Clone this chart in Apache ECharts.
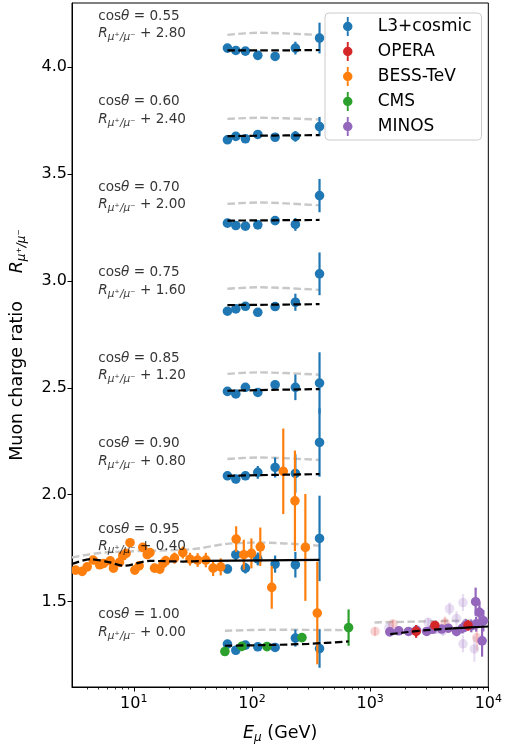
<!DOCTYPE html>
<html>
<head>
<meta charset="utf-8">
<script src="https://cdn.jsdelivr.net/npm/echarts@6/dist/echarts.min.js"></script>
<style>
  html, body { margin: 0; padding: 0; background: #fff; }
  #main { width: 505px; height: 749px; }
</style>
</head>
<body>
<div id="main"></div>
<script>
// cos(theta) bins and the vertical shift applied to each
const cosBins = ['0.55', '0.60', '0.70', '0.75', '0.85', '0.90', '0.95', '1.00'];
const offsets = [2.80, 2.40, 2.00, 1.60, 1.20, 0.80, 0.40, 0.00];

// L3+cosmic, same energies in every bin
const l3E = [62, 73, 88, 112, 157, 233, 373];
const l3R = [
    [1.289, 1.278, 1.275, 1.255, 1.250, 1.289, 1.336],
    [1.260, 1.276, 1.265, 1.285, 1.272, 1.276, 1.322],
    [1.270, 1.259, 1.256, 1.262, 1.282, 1.264, 1.399],
    [1.258, 1.269, 1.281, 1.253, 1.280, 1.300, 1.433],
    [1.283, 1.271, 1.302, 1.278, 1.314, 1.302, 1.322],
    [1.288, 1.273, 1.288, 1.304, 1.327, 1.299, 1.444],
    [1.252, 1.319, 1.256, 1.299, 1.275, 1.272, 1.395],
    [1.301, 1.272, 1.296, 1.288, 1.285, 1.329, 1.280]
];
const l3Err = [
    [0.010, 0.010, 0.010, 0.010, 0.010, 0.030, 0.072],
    [0.010, 0.010, 0.010, 0.010, 0.015, 0.025, 0.045],
    [0.010, 0.010, 0.010, 0.010, 0.015, 0.030, 0.078],
    [0.010, 0.010, 0.010, 0.010, 0.015, 0.040, 0.100],
    [0.012, 0.012, 0.015, 0.015, 0.020, 0.060, 0.144],
    [0.020, 0.020, 0.020, 0.030, 0.047, 0.090, 0.160],
    [0.020, 0.025, 0.025, 0.030, 0.040, 0.060, 0.200],
    [0.015, 0.015, 0.015, 0.015, 0.020, 0.040, 0.090]
];

// BESS-TeV (cos 0.95 bin)
const bessE = [3.22, 3.66, 4.03, 4.53, 5.14, 5.56, 6.32, 6.73, 7.56, 8.07, 8.61, 9.29, 10.2, 11.1, 11.9, 13.0, 13.7, 15.0, 16.6, 17.7, 18.6, 22.1, 26.0, 29.9, 34.7, 40.7, 46.9, 54.4, 73.5, 85.3, 98.9, 117.6, 147, 184, 231, 283, 357];
const bessR = [1.247, 1.241, 1.262, 1.294, 1.272, 1.278, 1.290, 1.256, 1.283, 1.314, 1.325, 1.375, 1.247, 1.267, 1.353, 1.319, 1.329, 1.256, 1.252, 1.278, 1.290, 1.303, 1.329, 1.298, 1.294, 1.294, 1.256, 1.262, 1.392, 1.319, 1.325, 1.356, 1.166, 1.709, 1.571, 1.353, 1.046];
const bessErr = [0.012, 0.012, 0.012, 0.012, 0.013, 0.013, 0.014, 0.014, 0.015, 0.015, 0.016, 0.018, 0.017, 0.018, 0.018, 0.019, 0.020, 0.020, 0.022, 0.023, 0.024, 0.026, 0.028, 0.030, 0.032, 0.034, 0.037, 0.040, 0.060, 0.070, 0.070, 0.090, 0.100, 0.200, 0.235, 0.250, 0.240];

// CMS (cos 1.00 bin)
const cmsE = [59, 82, 134, 265, 657];
const cmsR = [1.266, 1.290, 1.289, 1.331, 1.378];
const cmsErr = [0.008, 0.008, 0.010, 0.015, 0.085];

// OPERA
const operaE = [2450, 3530, 6730];
const operaR = [1.360, 1.388, 1.388];
const operaErr = [0.030, 0.020, 0.025];
const operaFadedE = [1100, 1560, 4300, 8000];
const operaFadedR = [1.360, 1.395, 1.400, 1.330];
const operaFadedErr = [0.020, 0.020, 0.030, 0.060];

// MINOS
const minosE = [1466, 1745, 2113, 2470, 3010, 3370, 4030, 4585, 5380, 6040, 6440, 7170, 7810, 7890, 8420, 8855, 9080];
const minosR = [1.358, 1.363, 1.360, 1.365, 1.360, 1.370, 1.371, 1.375, 1.360, 1.375, 1.389, 1.386, 1.499, 1.394, 1.449, 1.316, 1.410];
const minosErr = [0.010, 0.010, 0.012, 0.012, 0.015, 0.015, 0.018, 0.020, 0.022, 0.025, 0.030, 0.030, 0.066, 0.035, 0.050, 0.074, 0.050];
const minosFadedE = [1440, 3100, 3620, 4140, 4700, 5380, 6100, 6100, 7620, 8300];
const minosFadedR = [1.378, 1.403, 1.370, 1.364, 1.466, 1.420, 1.495, 1.302, 1.278, 1.450];
const minosFadedErr = [0.015, 0.020, 0.020, 0.025, 0.030, 0.035, 0.040, 0.040, 0.060, 0.050];

// model curves for bins 0.55 .. 0.90
const modelE = [62, 114, 373];
const blackR = [
    [1.278, 1.278, 1.280],
    [1.277, 1.279, 1.282],
    [1.282, 1.283, 1.285],
    [1.287, 1.288, 1.291],
    [1.286, 1.289, 1.294],
    [1.288, 1.291, 1.296]
];
const greyR = [
    [1.351, 1.361, 1.350],
    [1.358, 1.363, 1.355],
    [1.360, 1.367, 1.353],
    [1.363, 1.370, 1.358],
    [1.365, 1.372, 1.361],
    [1.367, 1.374, 1.362]
];
// model curves for bin 0.95
const black95E = [3, 4.3, 6.3, 8.2, 13.7, 26, 40];
const black95R = [1.275, 1.298, 1.283, 1.267, 1.290, 1.287, 1.290];
const solid95E = [40, 373];
const solid95R = [1.290, 1.295];
const grey95E = [3, 5.56, 31.4, 60, 114, 373];
const grey95R = [1.306, 1.329, 1.345, 1.369, 1.376, 1.361];
// model curves for bin 1.00
const black100E = [59, 150, 300, 657];
const black100R = [1.293, 1.297, 1.302, 1.313];
const grey100E = [59, 150, 657];
const grey100R = [1.363, 1.368, 1.366];
const blackHiE = [1480, 2000, 3000, 5000];
const blackHiR = [1.347, 1.356, 1.366, 1.374];
const solidHiE = [5000, 7000, 10000];
const solidHiR = [1.374, 1.379, 1.383];
const greyHiE = [1090, 10000];
const greyHiR = [1.402, 1.413];

// ticks
const yTicks = [1.5, 2.0, 2.5, 3.0, 3.5, 4.0];
const xTicks = [10, 100, 1000, 10000];
const xMinor = [4, 5, 6, 7, 8, 9, 20, 30, 40, 50, 60, 70, 80, 90, 200, 300, 400, 500, 600, 700, 800, 900, 2000, 3000, 4000, 5000, 6000, 7000, 8000, 9000];

const C_BLUE = '#1f77b4', C_ORANGE = '#ff7f0e', C_GREEN = '#2ca02c', C_RED = '#d62728', C_PURPLE = '#9467bd';
const FONT = 'DejaVu Sans';
const legendIcon = 'path://M9,0h2v5h-2z M9,15h2v5h-2z M5,10a5,5 0 1,0 10,0a5,5 0 1,0 -10,0z';

function pts(E, R, err, off) {
    return E.map((e, i) => [e, R[i] + off, err[i]]);
}
function line(E, R, off) {
    return E.map((e, i) => [e, R[i] + off]);
}

function errSeries(name, color, data, opacity, z) {
    return {
        name: name,
        type: 'custom',
        z: z,
        clip: true,
        itemStyle: { color: color },
        encode: { x: 0, y: 1 },
        data: data,
        renderItem: function (params, api) {
            const e = api.value(0), y = api.value(1), er = api.value(2);
            const p = api.coord([e, y]);
            const lo = api.coord([e, y - er]);
            const hi = api.coord([e, y + er]);
            return {
                type: 'group',
                children: [
                    { type: 'line', shape: { x1: p[0], y1: lo[1], x2: p[0], y2: hi[1] },
                      style: { stroke: color, lineWidth: 2.2, opacity: opacity } },
                    { type: 'circle', shape: { cx: p[0], cy: p[1], r: 4.8 },
                      style: { fill: color, opacity: opacity } }
                ]
            };
        }
    };
}

function modelSeries(data, color, dashed) {
    return {
        type: 'line',
        data: data,
        smooth: 0.3,
        symbol: 'none',
        silent: true,
        z: color === '#000' ? 6 : 1,
        lineStyle: { color: color, width: color === '#000' ? 2.2 : 2.4, type: dashed ? [7.5, 3.5] : 'solid' }
    };
}

// data series
let l3Data = [];
for (let b = 0; b < cosBins.length; b++) {
    l3Data = l3Data.concat(pts(l3E, l3R[b], l3Err[b], offsets[b]));
}

const series = [];
// grey models first (behind)
for (let b = 0; b < 6; b++) series.push(modelSeries(line(modelE, greyR[b], offsets[b]), '#c8c8c8', true));
series.push(modelSeries(line(grey95E, grey95R, offsets[6]), '#c8c8c8', true));
series.push(modelSeries(line(grey100E, grey100R, offsets[7]), '#c8c8c8', true));
series.push(modelSeries(line(greyHiE, greyHiR, offsets[7]), '#c8c8c8', true));

series.push(errSeries('OPERA faded', C_RED, pts(operaFadedE, operaFadedR, operaFadedErr, 0), 0.2, 2));
series.push(errSeries('MINOS faded', C_PURPLE, pts(minosFadedE, minosFadedR, minosFadedErr, 0), 0.22, 2));
series.push(errSeries('L3+cosmic', C_BLUE, l3Data, 1, 3));
series.push(errSeries('OPERA', C_RED, pts(operaE, operaR, operaErr, 0), 1, 4));
series.push(errSeries('BESS-TeV', C_ORANGE, pts(bessE, bessR, bessErr, offsets[6]), 1, 4));
series.push(errSeries('CMS', C_GREEN, pts(cmsE, cmsR, cmsErr, 0), 1, 4));
series.push(errSeries('MINOS', C_PURPLE, pts(minosE, minosR, minosErr, 0), 1, 3));

// black models on top
for (let b = 0; b < 6; b++) series.push(modelSeries(line(modelE, blackR[b], offsets[b]), '#000', true));
series.push(modelSeries(line(black95E, black95R, offsets[6]), '#000', true));
series.push(modelSeries(line(solid95E, solid95R, offsets[6]), '#000', false));
series.push(modelSeries(line(black100E, black100R, offsets[7]), '#000', true));
series.push(modelSeries(line(blackHiE, blackHiR, offsets[7]), '#000', true));
series.push(modelSeries(line(solidHiE, solidHiR, offsets[7]), '#000', false));

// bin annotations
const textRich = {
    n: { fontSize: 13.6, fontFamily: FONT, color: '#000', lineHeight: 17 },
    it: { fontSize: 13.6, fontFamily: FONT, fontStyle: 'italic', color: '#000', lineHeight: 17 },
    sub: { fontSize: 10.5, fontFamily: FONT, fontStyle: 'italic', color: '#000', padding: [7, 0, 0, 0] }
};
series.push({
    type: 'scatter',
    silent: true,
    symbolSize: 0,
    z: 10,
    data: cosBins.map((c, i) => [5, offsets[i] + 1.395, i]),
    label: {
        show: true,
        position: [0, 0],
        align: 'left',
        verticalAlign: 'middle',
        formatter: function (p) {
            const i = p.value[2];
            return '{n|cos}{it|θ}{n| = ' + cosBins[i] + '}\n{it|R}{sub|μ⁺/μ⁻}{n| + ' + offsets[i].toFixed(2) + '}';
        },
        rich: textRich
    }
});

const myChart = echarts.init(document.getElementById('main'));
const option = {
    animation: false,
    textStyle: { fontFamily: FONT },
    grid: { left: 72, right: 13, top: 3, bottom: 62, show: true, borderColor: '#000', borderWidth: 1, backgroundColor: 'transparent' },
    legend: {
        data: ['L3+cosmic', 'OPERA', 'BESS-TeV', 'CMS', 'MINOS'],
        orient: 'vertical',
        left: 325,
        top: 13,
        icon: legendIcon,
        itemWidth: 10,
        itemHeight: 19,
        itemGap: 6,
        padding: [4, 10, 4, 18],
        borderColor: '#cccccc',
        borderWidth: 1,
        borderRadius: 4,
        backgroundColor: 'rgba(255,255,255,0.8)',
        textStyle: { fontSize: 17, fontFamily: FONT, color: '#000', padding: [0, 0, 0, 20] }
    },
    xAxis: [{
        type: 'log',
        logBase: 10,
        min: 3,
        max: 10000,
        position: 'bottom',
        name: '{it|E}{sub|μ}{n| (GeV)}',
        nameLocation: 'middle',
        nameGap: 36,
        nameTextStyle: {
            rich: {
                n: { fontSize: 17.5, fontFamily: FONT, color: '#000' },
                it: { fontSize: 17.5, fontFamily: FONT, fontStyle: 'italic', color: '#000' },
                sub: { fontSize: 12, fontFamily: FONT, fontStyle: 'italic', color: '#000', padding: [9, 0, 0, 0] }
            }
        },
        axisLine: { show: true, lineStyle: { color: '#000', width: 1 } },
        axisTick: { show: true, length: 4.5, customValues: xTicks, lineStyle: { color: '#000', width: 1 } },
        axisLabel: {
            customValues: xTicks,
            margin: 7,
            formatter: function (v) {
                return '{b|10}{sup|' + Math.round(Math.log10(v)) + '}';
            },
            rich: {
                b: { fontSize: 16, fontFamily: FONT, color: '#000' },
                sup: { fontSize: 11, fontFamily: FONT, color: '#000', padding: [0, 0, 9, 0] }
            }
        },
        splitLine: { show: false }
    }, {
        type: 'log',
        logBase: 10,
        min: 3,
        max: 10000,
        position: 'bottom',
        axisLine: { show: false },
        axisTick: { show: true, length: 2.5, customValues: xMinor, lineStyle: { color: '#000', width: 0.8 } },
        axisLabel: { show: false },
        splitLine: { show: false }
    }],
    yAxis: {
        type: 'value',
        min: 1.1,
        max: 4.3,
        name: '{n|Muon charge ratio     }{it|R}{sub|μ⁺/μ⁻}',
        nameLocation: 'middle',
        nameGap: 44,
        nameTextStyle: {
            rich: {
                n: { fontSize: 17.5, fontFamily: FONT, color: '#000' },
                it: { fontSize: 17.5, fontFamily: FONT, fontStyle: 'italic', color: '#000' },
                sub: { fontSize: 12, fontFamily: FONT, fontStyle: 'italic', color: '#000', padding: [9, 0, 0, 0] }
            }
        },
        axisLine: { show: true, lineStyle: { color: '#000', width: 1 } },
        axisTick: { show: true, length: 4.5, customValues: yTicks, lineStyle: { color: '#000', width: 1 } },
        axisLabel: {
            customValues: yTicks,
            margin: 5,
            fontSize: 16,
            fontFamily: FONT,
            color: '#000',
            formatter: function (v) { return v.toFixed(1); }
        },
        splitLine: { show: false }
    },
    series: series
};
myChart.setOption(option);
</script>
</body>
</html>
